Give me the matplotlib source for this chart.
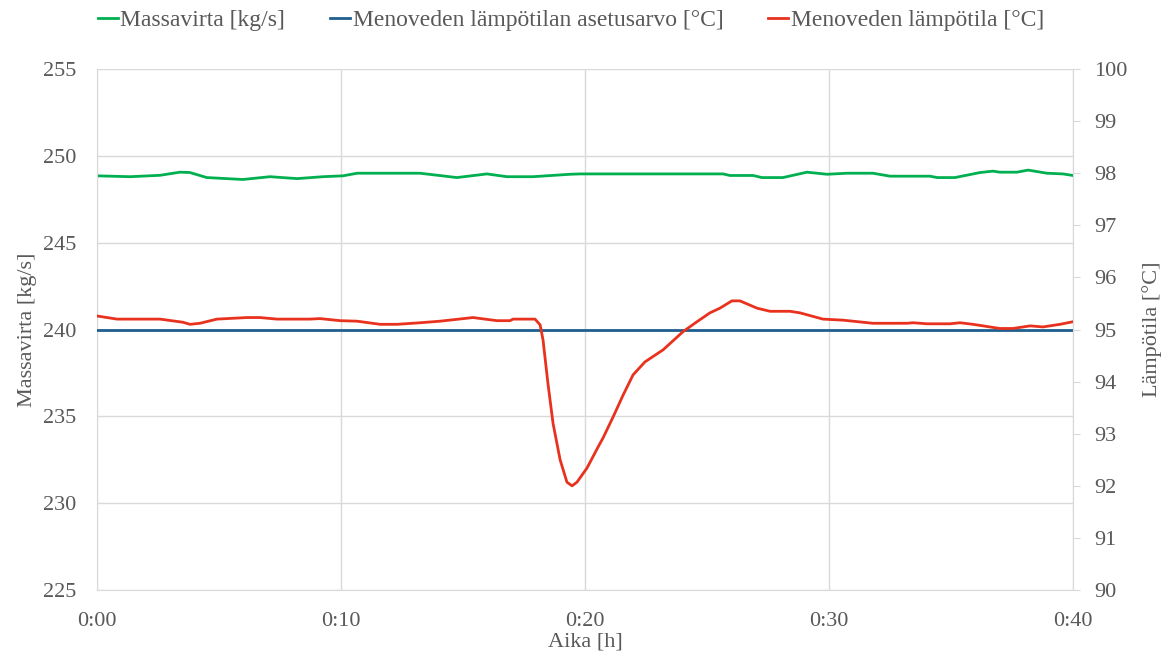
import matplotlib.pyplot as plt
from matplotlib.ticker import FuncFormatter

plt.rcParams['font.family'] = ['Liberation Serif', 'DejaVu Serif']

# Massavirta [kg/s], time in minutes
t_flow = [0, 1.35, 2.58, 3.4, 3.81, 4.5, 5.98, 7.09, 8.2, 9.26, 10.08, 10.66,
          13.24, 14.75, 15.98, 16.8, 17.87, 19.39, 19.8, 25.66, 25.94, 26.89,
          27.25, 28.11, 29.1, 29.92, 30.74, 31.8, 32.5, 34.14, 34.43, 35.16,
          36.19, 36.72, 37.0, 37.7, 38.16, 38.93, 39.59, 40]
flow = [248.85, 248.8, 248.88, 249.06, 249.04, 248.75, 248.64, 248.8, 248.69,
        248.8, 248.85, 249.0, 249.0, 248.75, 248.96, 248.8, 248.8, 248.94,
        248.96, 248.96, 248.87, 248.87, 248.75, 248.75, 249.06, 248.94, 249.0,
        249.0, 248.83, 248.83, 248.75, 248.75, 249.04, 249.12, 249.06, 249.06,
        249.18, 249.0, 248.96, 248.87]

# Asetusarvo [°C]
t_set = [0, 40]
setpoint = [95, 95]

# Menoveden lämpötila [°C]
t_temp = [0, 0.82, 2.58, 3.52, 3.81, 4.22, 4.92, 6.15, 6.68, 7.38, 8.73, 9.14,
          9.96, 10.66, 11.6, 12.3, 13.24, 14.06, 15.41, 16.39, 16.93, 17.05,
          17.95, 18.16, 18.28, 18.48, 18.69, 18.98, 19.26, 19.47, 19.67, 20.08,
          20.53, 20.74, 21.15, 21.56, 21.97, 22.46, 23.2, 24.02, 24.59, 25.12,
          25.53, 26.02, 26.35, 27.05, 27.58, 28.4, 28.81, 29.75, 30.57, 31.8,
          33.2, 33.44, 34.02, 34.96, 35.37, 35.9, 37.0, 37.54, 38.24, 38.77,
          39.47, 40]
temp = [95.26, 95.2, 95.2, 95.14, 95.1, 95.12, 95.2, 95.23, 95.23, 95.2, 95.2,
        95.21, 95.17, 95.16, 95.1, 95.1, 95.13, 95.16, 95.23, 95.17, 95.17,
        95.2, 95.2, 95.09, 94.8, 93.97, 93.2, 92.5, 92.07, 92.0, 92.07, 92.34,
        92.74, 92.92, 93.32, 93.74, 94.13, 94.38, 94.61, 94.96, 95.15, 95.32,
        95.41, 95.55, 95.55, 95.41, 95.35, 95.35, 95.32, 95.2, 95.18, 95.12,
        95.12, 95.13, 95.11, 95.11, 95.13, 95.1, 95.02, 95.02, 95.07, 95.05,
        95.1, 95.15]

x_ticks = [0, 10, 20, 30, 40]

green = '#00B050'
blue = '#1F5F8F'
red = '#E8321E'
grey = '#595959'
gridc = '#D9D9D9'

fig = plt.figure(figsize=(11.7, 6.58), dpi=100)
ax = fig.add_axes([0.0829, 0.1033, 0.8342, 0.7918])
ax2 = ax.twinx()

l1, = ax.plot(t_flow, flow, color=green, lw=2, label='Massavirta [kg/s]')
l2, = ax2.plot(t_set, setpoint, color=blue, lw=2,
               label='Menoveden lämpötilan asetusarvo [°C]')
l3, = ax2.plot(t_temp, temp, color=red, lw=2, label='Menoveden lämpötila [°C]')

ax.set_xlim(0, 40)
ax.set_ylim(225, 255)
ax2.set_ylim(90, 100)
ax.set_yticks(range(225, 256, 5))
ax2.set_yticks(range(90, 101))
ax.set_xticks(x_ticks)
ax.xaxis.set_major_formatter(FuncFormatter(lambda v, p: '%d:%02d' % (v // 60, v % 60)))

ax.grid(True, color=gridc, lw=1)
ax.set_axisbelow(True)

for a in (ax, ax2):
    for s in a.spines.values():
        s.set_color(gridc)
    a.spines['top'].set_visible(False)
ax.spines['right'].set_visible(False)
ax2.spines['left'].set_visible(False)
ax2.spines['bottom'].set_visible(False)

ax.tick_params(axis='y', length=0, labelsize=16, labelcolor=grey, pad=15)
ax.tick_params(axis='x', length=0, labelsize=16, labelcolor=grey, pad=16)
ax2.tick_params(axis='y', length=5, color=gridc, labelsize=16, labelcolor=grey, pad=10)

ax.set_xlabel('Aika [h]', fontsize=16, color=grey, labelpad=1)
ax.set_ylabel('Massavirta [kg/s]', fontsize=16, color=grey, labelpad=4)
ax2.set_ylabel('Lämpötila [°C]', fontsize=16, color=grey, labelpad=11)

leg = fig.legend(handles=[l1, l2, l3], loc='upper center', ncol=3,
                 bbox_to_anchor=(0.488, 1.018), frameon=False, fontsize=17,
                 handlelength=0.85, handletextpad=0.1, columnspacing=1.9)
for txt in leg.get_texts():
    txt.set_color(grey)

fig.savefig('out.png', dpi=100)
